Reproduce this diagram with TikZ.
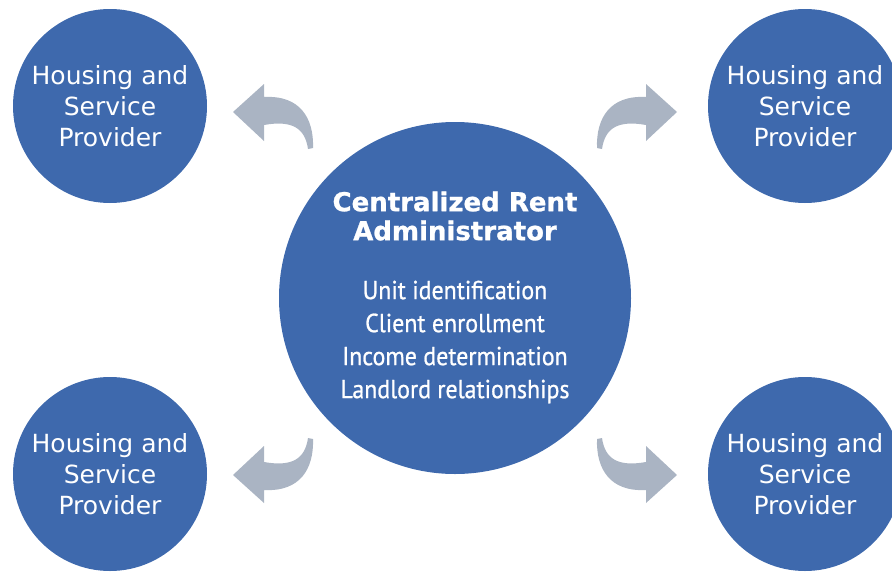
\documentclass[tikz,border=0pt]{standalone}
\usepackage{fontspec}
\setmainfont{DejaVu Sans}
\newfontfamily\listfont[FakeStretch=0.92,FakeBold=0.8]{PT Sans}
\newfontfamily\titlefont[FakeBold=1]{DejaVu Sans Bold}
\usetikzlibrary{positioning}

\definecolor{hubblue}{HTML}{3E69AD}
\definecolor{arrowgrey}{HTML}{AAB4C3}

% curved arrow, drawn for the upper left corner
\tikzset{
  bentarrow/.pic={
    \fill[arrowgrey] (-222,-181.5) -- (-191,-209.5) -- (-191,-196.5)
      .. controls (-155,-198.5) and (-141,-175.5) .. (-142,-145.5)
      -- (-147,-144.5)
      .. controls (-150,-165.5) and (-163,-173.5) .. (-191,-168.5)
      -- (-191,-152.5) -- cycle;
  }
}

\begin{document}
\begin{tikzpicture}[x=1pt,y=-1pt,
    provider/.style={circle,fill=hubblue,text=white,minimum size=194pt,
      inner sep=0pt,align=center,font=\fontsize{25}{31}\selectfont},
    hub/.style={circle,fill=hubblue,minimum size=352pt,inner sep=0pt},
    hubtext/.style={text=white,align=center,inner sep=0pt}]
  \useasboundingbox (0,0) rectangle (892,571);
  \clip (0,0) rectangle (892,571);

  \node[hub] (cra) at (455,298) {};
  \node[hubtext,font=\titlefont\fontsize{26}{29}\selectfont]
    (title) at ([yshift=82pt]cra.center) {Centralized Rent\\Administrator};
  \node[hubtext,font=\listfont\fontsize{26}{33}\selectfont]
    (tasks) at ([yshift=-44pt]cra.center)
    {Unit identification\\Client enrollment\\Income determination\\Landlord relationships};

  \node[provider] (provnw) at (110,106) {Housing and\\Service\\Provider};
  \node[provider] (provne) at (805,106) {Housing and\\Service\\Provider};
  \node[provider] (provsw) at (110,474) {Housing and\\Service\\Provider};
  \node[provider] (provse) at (805,474) {Housing and\\Service\\Provider};

  \coordinate (axis) at (455,293.5);
  \pic at (axis) {bentarrow};
  \pic[xscale=-1] at (axis) {bentarrow};
  \pic[yscale=-1] at (axis) {bentarrow};
  \pic[xscale=-1,yscale=-1] at (axis) {bentarrow};
\end{tikzpicture}
\end{document}
